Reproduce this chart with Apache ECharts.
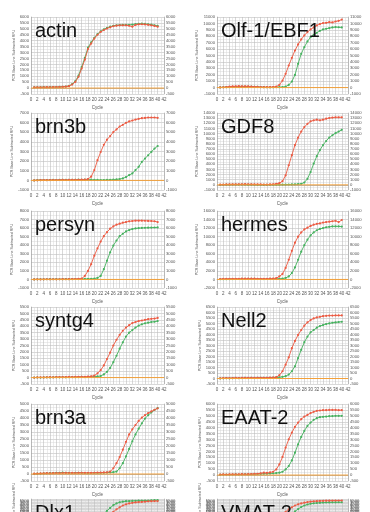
<!DOCTYPE html>
<html><head><meta charset="utf-8">
<script src="https://cdn.jsdelivr.net/npm/echarts@6/dist/echarts.min.js"></script>
<style>html,body{margin:0;padding:0;background:#fff}#c{width:370px;height:512px}</style>
</head><body><div id="c"></div>
<script>
const cycles = [1,2,3,4,5,6,7,8,9,10,11,12,13,14,15,16,17,18,19,20,21,22,23,24,25,26,27,28,29,30,31,32,33,34,35,36,37,38,39,40];

const actinRed = [60,70,60,70,80,70,80,90,90,100,120,170,300,520,950,1650,2400,3300,3760,4180,4500,4740,4900,5030,5130,5220,5270,5300,5300,5300,5260,5180,5330,5380,5390,5370,5340,5300,5250,5180];
const actinGreen = [70,60,70,80,70,80,90,80,100,110,130,190,330,580,1050,1780,2550,3420,3860,4250,4560,4790,4960,5080,5180,5260,5300,5320,5330,5330,5340,5360,5410,5430,5440,5420,5390,5350,5300,5250];
const olfRed = [20,40,80,150,180,200,220,200,210,190,160,130,100,80,60,60,70,90,150,420,1090,2140,3440,4640,5780,6720,7500,8130,8650,9060,9380,9690,9900,10050,10100,10200,10150,10300,10400,10600];
const olfGreen = [30,50,60,80,100,120,130,140,150,150,140,120,100,80,60,50,40,40,50,60,80,150,420,940,1980,3700,5260,6300,7190,7860,8230,8540,8850,9060,9170,9270,9370,9430,9400,9380];
const brn3bRed = [0,10,20,30,20,30,40,30,40,50,40,50,60,50,60,70,80,140,380,1065,2100,2950,3700,4230,4600,5020,5290,5600,5770,5980,6120,6220,6320,6390,6460,6490,6530,6530,6530,6500];
const brn3bGreen = [0,20,30,40,30,40,50,40,50,60,50,60,50,60,70,60,70,80,70,60,50,40,40,50,60,80,100,140,200,340,550,720,1065,1410,1920,2270,2610,2960,3300,3570];
const gdf8Red = [50,60,80,90,100,110,120,120,130,120,110,100,90,80,70,60,80,120,200,330,720,1840,3820,5790,7760,9210,10390,11250,11900,12370,12570,12700,12570,12700,12900,13030,13100,13160,13160,13160];
const gdf8Green = [0,20,30,40,50,50,60,60,50,40,30,20,10,0,0,10,20,20,30,40,50,60,70,80,100,130,200,460,1180,2500,4140,5590,6780,7760,8550,9210,9670,10070,10390,10720];
const persynRed = [0,10,0,10,20,10,20,10,20,30,20,30,40,50,60,100,410,1000,1790,2780,3640,4430,5060,5530,5930,6200,6400,6520,6630,6710,6790,6830,6870,6870,6870,6860,6840,6830,6800,6710];
const persynGreen = [0,10,20,10,20,30,20,30,20,30,40,30,40,50,40,50,60,70,80,100,180,410,1200,2190,3170,3960,4550,5060,5340,5610,5770,5890,5960,6000,6020,6040,6050,6060,6070,6080];
const hermesRed = [100,120,130,140,150,160,160,170,170,180,180,170,160,150,150,160,180,220,300,700,1300,2700,4600,6700,8600,10000,11000,11700,12100,12500,12800,13000,13100,13300,13400,13500,13600,13700,13400,13900];
const hermesGreen = [50,60,70,80,90,100,100,110,110,120,120,110,100,100,90,100,110,120,140,160,200,350,700,1500,2800,4600,6500,8000,9300,10300,11000,11500,11800,12000,12200,12300,12400,12400,12400,12350];
const syntg4Red = [0,10,20,10,20,30,20,30,40,30,40,50,40,50,60,50,60,80,100,150,330,580,950,1450,1950,2500,2950,3330,3650,3900,4080,4250,4330,4400,4450,4500,4550,4580,4600,4650];
const syntg4Green = [0,10,0,10,20,10,20,30,20,30,20,30,40,30,40,50,40,50,60,70,90,120,250,450,750,1200,1700,2250,2750,3200,3500,3700,3900,4050,4150,4230,4280,4330,4350,4400];
const nell2Red = [20,30,40,30,40,50,40,50,60,50,60,50,60,70,60,70,80,90,120,300,660,1260,1920,2760,3420,3960,4410,4800,5100,5310,5460,5550,5610,5670,5700,5720,5720,5730,5730,5730];
const nell2Green = [10,20,30,20,30,40,30,40,50,40,50,40,50,60,50,60,70,80,90,110,150,210,360,660,1110,1860,2610,3300,3810,4200,4410,4620,4770,4860,4950,5010,5070,5100,5130,5160];
const brn3aRed = [20,30,40,50,60,50,60,70,60,70,80,70,80,70,80,90,80,90,80,90,100,100,110,120,170,410,770,1210,1740,2300,2830,3190,3500,3790,4030,4200,4350,4470,4590,4690];
const brn3aGreen = [10,20,30,40,50,60,70,80,90,100,90,80,70,80,90,80,70,60,70,80,70,80,90,100,110,130,170,410,770,1260,1790,2340,2830,3240,3620,3960,4200,4400,4570,4710];
const eaat2Red = [50,60,50,60,70,60,70,80,70,80,90,100,110,150,200,180,220,280,480,900,1530,2320,3020,3590,4070,4430,4720,4940,5080,5230,5340,5420,5450,5480,5480,5500,5500,5500,5480,5480];
const eaat2Green = [30,40,50,40,50,60,50,60,70,60,70,80,90,100,110,120,130,150,170,200,280,480,760,1240,1890,2600,3220,3730,4150,4430,4660,4800,4890,4920,4940,4970,4980,5000,5000,5000];
const dlx1Red = [30,40,50,40,50,60,50,60,70,60,70,60,70,80,70,80,90,80,90,100,110,130,200,500,1000,1700,2500,3200,3800,4200,4500,4700,4850,4950,5000,5100,5200,5250,5300,5300];
const dlx1Green = [40,50,60,50,60,70,60,70,80,70,80,90,80,90,100,90,100,110,120,140,200,500,1100,2000,3000,3900,4500,4900,5100,5250,5300,5350,5400,5420,5450,5480,5500,5550,5600,5600];
const vmat2Red = [40,50,60,50,60,70,60,70,80,70,80,90,80,90,100,110,120,140,200,500,1000,1700,2500,3200,3800,4200,4500,4750,4950,5100,5200,5280,5340,5380,5420,5440,5460,5480,5490,5500];
const vmat2Green = [30,40,50,40,50,60,50,60,70,60,70,80,70,80,90,80,90,100,110,120,150,200,500,1000,1800,2600,3300,3800,4150,4400,4550,4650,4720,4780,4820,4850,4870,4890,4900,4900];

// y axis ticks: [min, max, step]
const actinTicks = [-500, 6000, 500];
const olfTicks = [-1000, 11000, 1000];
const brn3bTicks = [-1000, 7000, 1000];
const gdf8Ticks = [-1000, 14000, 1000];
const persynTicks = [-1000, 8000, 1000];
const hermesTicks = [-2000, 16000, 2000];
const syntg4Ticks = [-500, 5500, 500];
const nell2Ticks = [-500, 6500, 500];
const brn3aTicks = [-500, 5000, 500];
const eaat2Ticks = [-500, 6000, 500];
const dlx1Ticks = [-500, 6000, 500];
const vmat2Ticks = [-500, 6000, 500];
const xTicks = [0, 42, 2];

const panelNames = ['actin','Olf-1/EBF1','brn3b','GDF8','persyn','hermes','syntg4','Nell2','brn3a','EAAT-2','Dlx1','VMAT-2'];
const panelRed = [actinRed, olfRed, brn3bRed, gdf8Red, persynRed, hermesRed, syntg4Red, nell2Red, brn3aRed, eaat2Red, dlx1Red, vmat2Red];
const panelGreen = [actinGreen, olfGreen, brn3bGreen, gdf8Green, persynGreen, hermesGreen, syntg4Green, nell2Green, brn3aGreen, eaat2Green, dlx1Green, vmat2Green];
const panelTicks = [actinTicks, olfTicks, brn3bTicks, gdf8Ticks, persynTicks, hermesTicks, syntg4Ticks, nell2Ticks, brn3aTicks, eaat2Ticks, dlx1Ticks, vmat2Ticks];
const thresholds = [0,0,0,0,0,0,0,0,0,0,0,0];

const colLeft = [31, 217], colWidth = [133, 131];
const rowTop = [17, 113, 211, 307, 404, 499];
const gridH = 77;
const RED = '#ec5a42', GREEN = '#45b15e', ORANGE = '#f4a13a';
const font = 'Liberation Sans, Arial, sans-serif';
const plain = v => String(v);

const grids = [], xAxes = [], yAxes = [], series = [], titles = [];
panelNames.forEach((name, i) => {
  const col = i % 2, row = Math.floor(i / 2);
  const t = panelTicks[i];
  grids.push({left: colLeft[col], top: rowTop[row], width: colWidth[col], height: gridH});
  xAxes.push({
    type: 'value', gridIndex: i, min: xTicks[0], max: xTicks[1], interval: xTicks[2],
    name: 'Cycle', nameLocation: 'middle', nameGap: 11,
    nameTextStyle: {fontSize: 4.5, color: '#555', fontFamily: font},
    axisLine: {show: true, lineStyle: {color: '#999', width: 0.5}},
    axisTick: {show: false},
    axisLabel: {fontSize: 4.5, color: '#555', margin: 3, fontFamily: font, formatter: plain},
    splitLine: {show: true, lineStyle: {color: '#bdbdbd', width: 0.6}},
    minorTick: {show: false, splitNumber: 2},
    minorSplitLine: {show: true, lineStyle: {color: '#d8d8d8', width: 0.5}}
  });
  const yBase = {
    type: 'value', gridIndex: i, min: t[0], max: t[1], interval: t[2],
    axisTick: {show: false},
    axisLabel: {fontSize: 4.2, color: '#555', margin: 2, fontFamily: font, formatter: plain},
    axisLine: {show: true, lineStyle: {color: '#999', width: 0.5}},
    minorTick: {show: false, splitNumber: 2}
  };
  yAxes.push(Object.assign({}, yBase, {
    position: 'left',
    name: 'PCR Base Line Subtracted RFU', nameLocation: 'middle', nameGap: 13, nameRotate: 90,
    nameTextStyle: {fontSize: 3.6, color: '#555', fontFamily: font},
    splitLine: {show: true, lineStyle: {color: '#bdbdbd', width: 0.6}},
    minorSplitLine: {show: true, lineStyle: {color: '#d8d8d8', width: 0.5}}
  }));
  yAxes.push(Object.assign({}, yBase, {
    position: 'right', splitLine: {show: false}, minorSplitLine: {show: false}
  }));
  const mk = arr => cycles.map((c, k) => [c, arr[k]]);
  series.push({
    type: 'line', xAxisIndex: i, yAxisIndex: 2 * i, data: mk(panelRed[i]),
    symbol: 'circle', symbolSize: 2.2, color: RED, lineStyle: {width: 0.9, color: RED},
    itemStyle: {color: RED}, z: 3
  });
  series.push({
    type: 'line', xAxisIndex: i, yAxisIndex: 2 * i, data: mk(panelGreen[i]),
    symbol: 'circle', symbolSize: 2.2, color: GREEN, lineStyle: {width: 0.9, color: GREEN},
    itemStyle: {color: GREEN}, z: 2
  });
  series.push({
    type: 'line', xAxisIndex: i, yAxisIndex: 2 * i,
    data: [[xTicks[0], thresholds[i]], [xTicks[1], thresholds[i]]],
    showSymbol: false, symbol: 'none', lineStyle: {width: 1, color: ORANGE}, z: 4
  });
  titles.push({
    text: name, left: colLeft[col] + 4, top: rowTop[row] + 4, padding: 0,
    textStyle: {fontSize: 20, fontWeight: 'normal', color: '#111', fontFamily: font}
  });
});

const chart = echarts.init(document.getElementById('c'), null, {renderer: 'canvas'});
chart.setOption({
  animation: false,
  backgroundColor: '#fff',
  title: titles,
  grid: grids,
  xAxis: xAxes,
  yAxis: yAxes,
  series: series
});
</script></body></html>
